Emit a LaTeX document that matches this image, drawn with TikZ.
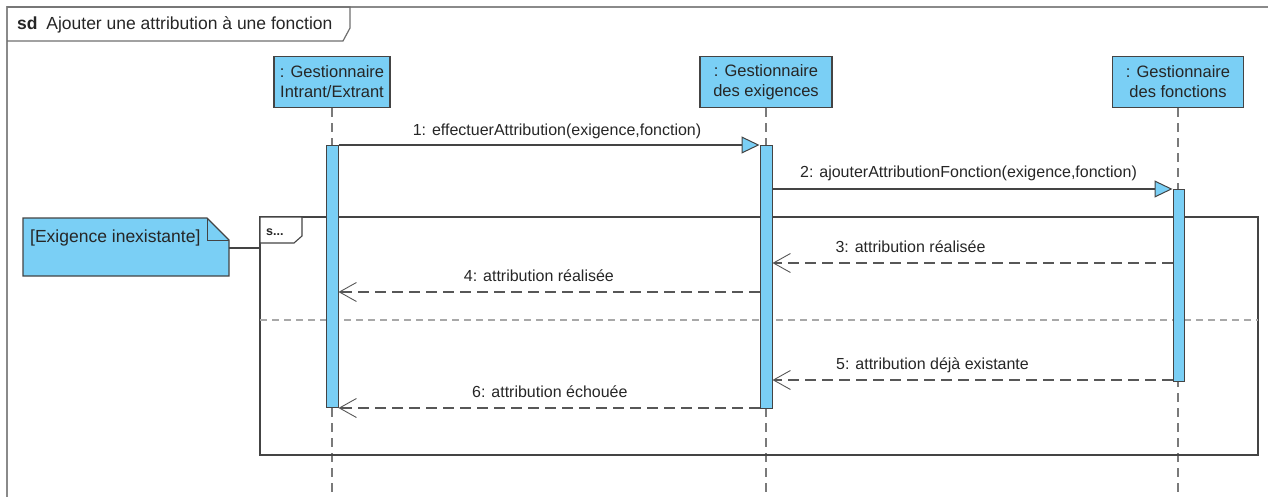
\documentclass[tikz,border=0pt]{standalone}
\usepackage{fontspec}
\setmainfont{Liberation Sans}
\usetikzlibrary{arrows.meta}
\definecolor{vpblue}{HTML}{7ACFF5}
\definecolor{dline}{HTML}{444444}
\definecolor{lifec}{HTML}{7A7A7A}
\definecolor{framec}{HTML}{8A8A8A}
\definecolor{sepc}{HTML}{A8A8A8}
\begin{document}
\begin{tikzpicture}[x=1pt,y=-1pt,
  every node/.style={font=\fontsize{16}{20}\selectfont, inner sep=0pt, text=black!85},
  bigtext/.style={font=\fontsize{17.5}{21}\selectfont},
  head/.style={draw=dline, line width=1.2pt, fill=vpblue, minimum height=51pt, align=center, font=\fontsize{16.5}{20}\selectfont},
  lifeline/.style={draw=lifec, line width=1.4pt, dash pattern=on 9pt off 6pt},
  actbar/.style={draw=dline, line width=1pt, fill=vpblue, minimum width=12pt, inner sep=0pt, anchor=north},
  syncmsg/.style={draw=dline, line width=1.3pt, -{Triangle[length=18pt,width=17pt,fill=vpblue,line width=1pt]}},
  retmsg/.style={draw=dline!90, line width=1.8pt, dash pattern=on 11pt off 6pt, -{Straight Barb[length=17pt,width=19pt,line width=0.9pt]}},
  lbl/.style={anchor=base, yshift=11pt},
  fragline/.style={draw=dline, line width=1.4pt}
]
\useasboundingbox (0,0) rectangle (1268,497);
% outer sd frame
\draw[framec, line width=1.4pt] (7,497) -- (7,7) -- (1268,7);
\draw[framec!80!black, line width=1.2pt] (7,7) -- (350,7) -- (350,28) -- (343,41) -- (7,41);
\node[anchor=base west, bigtext] (title) at (17,30) {\textbf{sd}\enspace Ajouter une attribution à une fonction};

% lifeline heads
\node[head, minimum width=116pt] (l1) at (332,82) {: Gestionnaire\\Intrant/Extrant};
\node[head, minimum width=132pt] (l2) at (766,82) {: Gestionnaire\\des exigences};
\node[head, minimum width=131pt] (l3) at (1178,82) {: Gestionnaire\\des fonctions};
\coordinate (e1) at (332,497);
\coordinate (e2) at (766,497);
\coordinate (e3) at (1178,497);
\draw[lifeline] (l1.south) -- (e1);
\draw[lifeline] (l2.south) -- (e2);
\draw[lifeline] (l3.south) -- (e3);

% combined fragment
\draw[fragline] (260,217) rectangle (1258,455);
\coordinate (fragtl) at (260,217);
\draw[fragline, fill=white, line width=1.1pt] (260,217) -- (302,217) -- (302,236) -- (294,243) -- (260,243) -- cycle;
\node[anchor=base west, font=\fontsize{12.5}{14}\selectfont\bfseries] (ftab) at (266,235) {s...};
\draw[sepc, line width=1.3pt, dash pattern=on 7pt off 5pt] (260,320) -- (1258,320);

% activation bars
\node[actbar, minimum height=262pt] (a1) at (332,145) {};
\node[actbar, minimum height=263pt] (a2) at (766,145) {};
\node[actbar, minimum width=11pt, minimum height=192pt] (a3) at (1178.5,189) {};

% note
\draw[dline, line width=1.2pt, fill=vpblue] (23,218) -- (207,218) -- (229,240) -- (229,276) -- (23,276) -- cycle;
\draw[dline, line width=1pt] (207,218) -- (207,240) -- (229,240);
\coordinate (noteR) at (229,248);
\node[anchor=base west, bigtext] (note) at (30,242) {[Exigence inexistante]};
\coordinate (fragL) at (260,248);
\draw[dline, line width=1.5pt] (noteR) -- (fragL);

% message levels
\coordinate (y3) at (0,263);
\coordinate (y4) at (0,292);
\coordinate (y5) at (0,380);
\coordinate (y6) at (0,408);

\draw[syncmsg] (a1.north east) -- node[lbl, yshift=-2pt, pos=0.519] {1: effectuerAttribution(exigence,fonction)} (a2.north west);
\draw[syncmsg] (a2.east |- a3.north) -- node[lbl, pos=0.49] {2: ajouterAttributionFonction(exigence,fonction)} (a3.north west);
\draw[retmsg] (a3.west |- y3) -- node[lbl, pos=0.655] {3: attribution réalisée} (a2.east |- y3);
\draw[retmsg] (a2.west |- y4) -- node[lbl, pos=0.524] {4: attribution réalisée} (a1.east |- y4);
\draw[retmsg] (a3.west |- y5) -- node[lbl, pos=0.6] {5: attribution déjà existante} (a2.east |- y5);
\draw[retmsg] (a2.west |- y6) -- node[lbl, pos=0.498] {6: attribution échouée} (a1.east |- y6);
\end{tikzpicture}
\end{document}
